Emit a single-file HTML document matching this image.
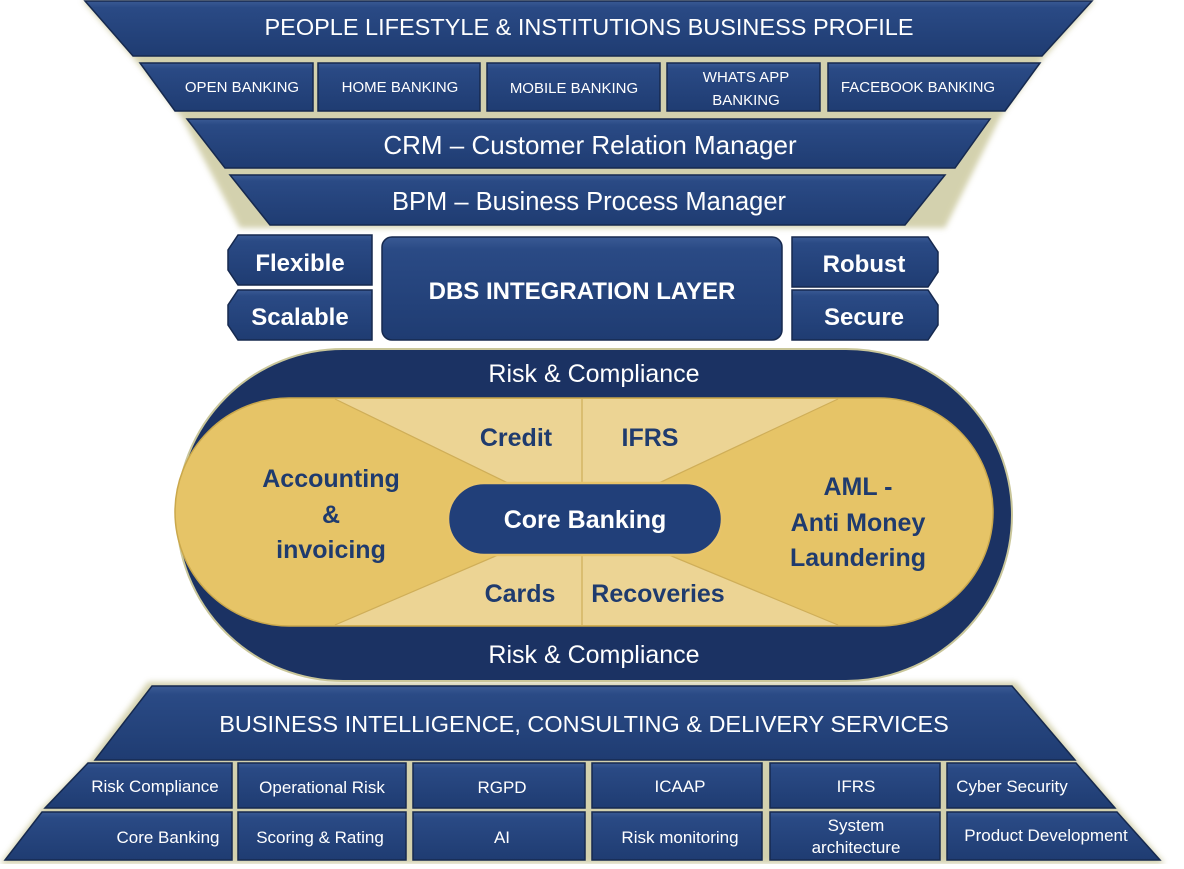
<!DOCTYPE html>
<html><head><meta charset="utf-8"><style>
html,body{margin:0;padding:0;background:#fff;}
svg text{font-family:"Liberation Sans",sans-serif;fill:#fff;text-anchor:middle;}
.b{font-weight:bold}
</style></head><body>
<svg width="1184" height="864" viewBox="0 0 1184 864" xmlns="http://www.w3.org/2000/svg">
<defs>
<linearGradient id="nv" x1="0" y1="0" x2="0" y2="1">
<stop offset="0" stop-color="#3a5a94"/><stop offset="0.12" stop-color="#2a4a85"/><stop offset="1" stop-color="#1f3c72"/>
</linearGradient>
<filter id="gl" x="-10%" y="-10%" width="120%" height="120%"><feGaussianBlur stdDeviation="3"/></filter>
</defs>
<g fill="#c9c69a" filter="url(#gl)" opacity="0.8">
<polygon points="82,0 1095,0 1042,60 1000,118 945,228 240,228 182,118 135,60"/>
<polygon points="148,682 1016,682 1078,760 1120,810 1165,864 0,864 40,810 90,760"/>
</g>
<g fill="url(#nv)" stroke="#16294f" stroke-width="1.5">
<polygon points="85,1 1092,1 1042,56 133,56"/>
<polygon points="140,63 313,63 313,111 175,111"/>
<rect x="318" y="63" width="162" height="48"/>
<rect x="487" y="63" width="173" height="48"/>
<rect x="667" y="63" width="153" height="48"/>
<polygon points="828,63 1040,63 1005,111 828,111"/>
<polygon points="187,119 990,119 955,168 225,168"/>
<polygon points="230,175 945,175 905,225 270,225"/>
<path d="M238,235 H372 V285 H238 L228,270 V250 Z"/>
<path d="M238,290 H372 V340 H238 L228,325 V305 Z"/>
<rect x="382" y="237" width="400" height="103" rx="10"/>
<path d="M792,237 H928 L938,252 V272 L928,287 H792 Z"/>
<path d="M792,290 H928 L938,305 V325 L928,340 H792 Z"/>
<polygon points="152,686 1012,686 1075,760 95,760"/>
<polygon points="88,763 232,763 232,808 45,808"/>
<rect x="238" y="763" width="168" height="45"/>
<rect x="413" y="763" width="172" height="45"/>
<rect x="592" y="763" width="170" height="45"/>
<rect x="770" y="763" width="170" height="45"/>
<polygon points="947,763 1076,763 1115,808 947,808"/>
<polygon points="42,812 232,812 232,860 5,860"/>
<rect x="238" y="812" width="168" height="48"/>
<rect x="413" y="812" width="172" height="48"/>
<rect x="592" y="812" width="170" height="48"/>
<rect x="770" y="812" width="170" height="48"/>
<polygon points="947,812 1117,812 1160,860 947,860"/>
</g>
<rect x="177" y="349" width="835" height="332" rx="166" fill="#1b3263" stroke="#c9c69a" stroke-width="2"/>
<rect x="175" y="398" width="818" height="228" rx="114" fill="#e6c467" stroke="#caa84c" stroke-width="1.5"/>
<polygon points="335,399 838,399 582,519" fill="#ecd494"/>
<polygon points="335,625 838,625 582,519" fill="#ecd494"/>
<g stroke="#cfae58" stroke-width="1.2" fill="none">
<line x1="335" y1="399" x2="582" y2="519"/><line x1="838" y1="399" x2="582" y2="519"/>
<line x1="335" y1="625" x2="582" y2="519"/><line x1="838" y1="625" x2="582" y2="519"/>
<line x1="582" y1="399" x2="582" y2="625"/>
</g>
<rect x="448" y="483" width="274" height="72" rx="36" fill="#213f79" stroke="#e8c46a" stroke-width="2.5"/>
<text x="589" y="35" font-size="23.5">PEOPLE LIFESTYLE &amp; INSTITUTIONS BUSINESS PROFILE</text>
<text x="242" y="92" font-size="15">OPEN BANKING</text>
<text x="400" y="92" font-size="15">HOME BANKING</text>
<text x="574" y="93" font-size="15">MOBILE BANKING</text>
<text x="746" y="82" font-size="15">WHATS APP</text>
<text x="746" y="105" font-size="15">BANKING</text>
<text x="918" y="92" font-size="15">FACEBOOK BANKING</text>
<text x="590" y="154" font-size="26">CRM – Customer Relation Manager</text>
<text x="589" y="210" font-size="25.5">BPM – Business Process Manager</text>
<text class="b" x="300" y="271" font-size="24">Flexible</text>
<text class="b" x="300" y="325" font-size="24">Scalable</text>
<text class="b" x="582" y="299" font-size="24">DBS INTEGRATION LAYER</text>
<text class="b" x="864" y="272" font-size="24">Robust</text>
<text class="b" x="864" y="325" font-size="24">Secure</text>
<text x="594" y="382" font-size="25">Risk &amp; Compliance</text>
<text x="594" y="663" font-size="25">Risk &amp; Compliance</text>
<g font-size="25">
<text x="516" y="446" style="fill:#1f3b6e" font-weight="bold">Credit</text>
<text x="650" y="446" style="fill:#1f3b6e" font-weight="bold">IFRS</text>
<text x="520" y="602" style="fill:#1f3b6e" font-weight="bold">Cards</text>
<text x="658" y="602" style="fill:#1f3b6e" font-weight="bold">Recoveries</text>
<text x="331" y="487" style="fill:#1f3b6e" font-weight="bold">Accounting</text>
<text x="331" y="523" style="fill:#1f3b6e" font-weight="bold">&amp;</text>
<text x="331" y="558" style="fill:#1f3b6e" font-weight="bold">invoicing</text>
<text x="858" y="495" style="fill:#1f3b6e" font-weight="bold">AML -</text>
<text x="858" y="531" style="fill:#1f3b6e" font-weight="bold">Anti Money</text>
<text x="858" y="566" style="fill:#1f3b6e" font-weight="bold">Laundering</text>
</g>
<text class="b" x="585" y="528" font-size="25">Core Banking</text>
<text x="584" y="732" font-size="23.5">BUSINESS INTELLIGENCE, CONSULTING &amp; DELIVERY SERVICES</text>
<g font-size="17">
<text x="155" y="792">Risk Compliance</text>
<text x="322" y="793">Operational Risk</text>
<text x="502" y="793">RGPD</text>
<text x="680" y="792">ICAAP</text>
<text x="856" y="792">IFRS</text>
<text x="1012" y="792">Cyber Security</text>
<text x="168" y="843">Core Banking</text>
<text x="320" y="843">Scoring &amp; Rating</text>
<text x="502" y="843">AI</text>
<text x="680" y="843">Risk monitoring</text>
<text x="856" y="831">System</text>
<text x="856" y="853">architecture</text>
<text x="1046" y="841">Product Development</text>
</g>
</svg>
</body></html>
